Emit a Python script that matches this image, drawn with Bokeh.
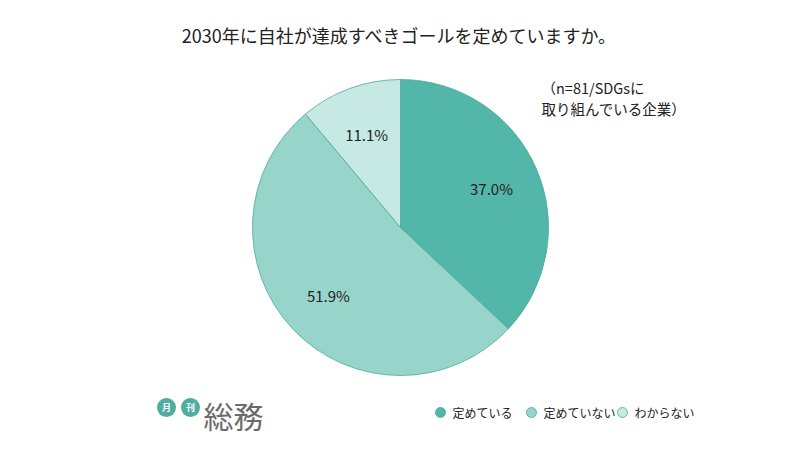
import math
from bokeh.plotting import figure
from bokeh.models import Range1d, ColumnDataSource
from bokeh.core.properties import value
from bokeh.embed import file_html
from bokeh.resources import INLINE

title = "2030年に自社が達成すべきゴールを定めていますか。"
note_lines = ["（n=81/SDGsに", "取り組んでいる企業）"]
categories = ["定めている", "定めていない", "わからない"]
shares = [37.0, 51.9, 11.1]
colors = ["#52b6a9", "#97d5cb", "#c6e9e3"]
edge = "#4aa89b"

W, H = 800, 450
FONT = value("Noto Sans CJK JP")

p = figure(width=W, height=H, output_backend="svg", toolbar_location=None,
           x_range=Range1d(0, W), y_range=Range1d(0, H), min_border=0)
p.axis.visible = False
p.grid.visible = False
p.outline_line_color = None
p.background_fill_color = "white"
p.border_fill_color = "white"

cx, cy, r = 400, H - 227, 148
total = sum(shares)
starts, ends, mids = [], [], []
acc = 0.0
for s in shares:
    a0 = math.pi / 2 - 2 * math.pi * acc / total
    acc += s
    a1 = math.pi / 2 - 2 * math.pi * acc / total
    starts.append(a0)
    ends.append(a1)
    mids.append((a0 + a1) / 2)

src = ColumnDataSource(dict(start=starts, end=ends, color=colors,
                            x=[cx] * 3, y=[cy] * 3))
p.wedge(x="x", y="y", radius=r, start_angle="start", end_angle="end",
        direction="clock", fill_color="color", line_color=edge,
        line_width=0.8, source=src)

lr = 0.67
lx = [cx + lr * r * math.cos(m) for m in mids]
ly = [cy + lr * r * math.sin(m) for m in mids]
labels = [f"{s:.1f}%" for s in shares]
p.text(x=lx, y=ly, text=labels, text_align="center", text_baseline="middle",
       text_font=FONT, text_font_size="15px", text_color="#222222")

# title
p.text(x=[399], y=[H - 34], text=[title], text_align="center",
       text_baseline="middle", text_font=FONT, text_font_size="18px",
       text_color="#222222")

# note
p.text(x=[541, 541], y=[H - 87, H - 108], text=note_lines, text_align="left",
       text_baseline="middle", text_font=FONT, text_font_size="14.5px",
       text_color="#222222")

# legend
leg_x = [440, 531, 622]
leg_y = H - 412
p.scatter(x=leg_x, y=[leg_y] * 3, size=10, fill_color=colors,
          line_color=edge, line_width=0.8)
p.text(x=[x + 12 for x in leg_x], y=[leg_y] * 3, text=categories,
       text_align="left", text_baseline="middle", text_font=FONT,
       text_font_size="12px", text_color="#222222")

# logo
p.scatter(x=[166, 190], y=[H - 407] * 2, size=19, fill_color="#4fae9f",
          line_color=None)
p.text(x=[166, 190], y=[H - 407] * 2, text=["月", "刊"], text_align="center",
       text_baseline="middle", text_font=FONT, text_font_size="9px",
       text_color="white", text_font_style="bold")
p.text(x=[203], y=[H - 414], text=["総務"], text_align="left",
       text_baseline="middle", text_font=FONT, text_font_size="30px",
       text_color="#6b6b6b")

open("out.html", "w").write(file_html(p, INLINE))
